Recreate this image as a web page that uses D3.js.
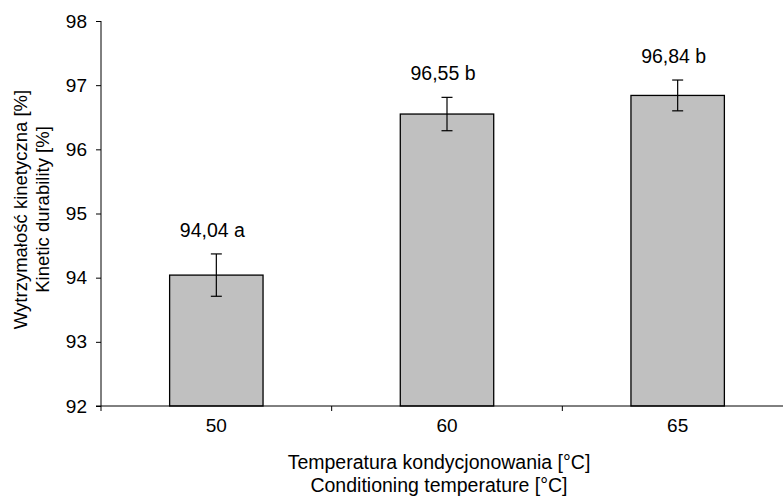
<!DOCTYPE html>
<html>
<head>
<meta charset="utf-8">
<script src="https://cdn.jsdelivr.net/npm/d3@7/dist/d3.min.js"></script>
<style>
  body { margin: 0; background: #fff; }
  text { font-family: "Liberation Sans", Arial, sans-serif; fill: #000; }
</style>
</head>
<body>
<div id="wykres"></div>
<script>
// dane
var temperatures = ["50", "60", "65"];
var durability = [94.04, 96.55, 96.84];
var errors = [0.33, 0.26, 0.24];
var groups = ["a", "b", "b"];
var yTicks = [92, 93, 94, 95, 96, 97, 98];

var margin = {top: 21, right: -10, bottom: 96, left: 101},
    width = 783 - margin.left - margin.right,
    height = 502 - margin.top - margin.bottom;

var svg = d3.select("#wykres")
  .append("svg")
    .attr("width", 783)
    .attr("height", 502)
  .append("g")
    .attr("transform", "translate(" + margin.left + "," + margin.top + ")");

var x = d3.scaleBand()
  .domain(temperatures)
  .range([0, width])
  .paddingInner(0.595)
  .paddingOuter(0.2975);

var y = d3.scaleLinear()
  .domain([92, 98])
  .range([height, 0]);

// bars
svg.selectAll("rect.bar")
  .data(durability)
  .enter().append("rect")
    .attr("class", "bar")
    .attr("x", function(d, i) { return x(temperatures[i]); })
    .attr("y", function(d) { return y(d); })
    .attr("width", x.bandwidth())
    .attr("height", function(d) { return height - y(d); })
    .style("fill", "#c0c0c0")
    .style("stroke", "#000")
    .style("stroke-width", 1.3);

// error bars
var eb = svg.selectAll("g.err")
  .data(durability)
  .enter().append("g")
    .attr("class", "err")
    .attr("transform", function(d, i) { return "translate(" + (x(temperatures[i]) + x.bandwidth() / 2) + ",0)"; });

eb.append("line")
  .attr("x1", 0).attr("x2", 0)
  .attr("y1", function(d, i) { return y(d + errors[i]); })
  .attr("y2", function(d, i) { return y(d - errors[i]); })
  .style("stroke", "#000").style("stroke-width", 1.2);
eb.append("line")
  .attr("x1", -5.5).attr("x2", 5.5)
  .attr("y1", function(d, i) { return y(d + errors[i]); })
  .attr("y2", function(d, i) { return y(d + errors[i]); })
  .style("stroke", "#000").style("stroke-width", 1.2);
eb.append("line")
  .attr("x1", -5.5).attr("x2", 5.5)
  .attr("y1", function(d, i) { return y(d - errors[i]); })
  .attr("y2", function(d, i) { return y(d - errors[i]); })
  .style("stroke", "#000").style("stroke-width", 1.2);

// labels
eb.append("text")
  .attr("x", -4)
  .attr("y", function(d, i) { return y(d + errors[i]) - 17; })
  .attr("text-anchor", "middle")
  .style("font-size", "19.5px")
  .text(function(d, i) { return d.toFixed(2).replace(".", ",") + " " + groups[i]; });

// axes
var yAxis = svg.append("g")
  .call(d3.axisLeft(y).tickValues(yTicks).tickSize(5).tickPadding(9).tickFormat(d3.format("d")));
yAxis.select(".domain").attr("d", "M0," + (height + 5) + "V0").style("stroke", "#000");
yAxis.selectAll(".tick line").style("stroke", "#000");
yAxis.selectAll("text").style("font-size", "19px");

var xAxis = svg.append("g")
  .attr("transform", "translate(0," + height + ")")
  .call(d3.axisBottom(x).tickSize(0).tickPadding(13));
xAxis.select(".domain").attr("d", "M-5,0H" + width).style("stroke", "#000");
xAxis.selectAll("text").style("font-size", "19px");

// ticks between categories
svg.selectAll("line.sep")
  .data(temperatures.slice(1))
  .enter().append("line")
    .attr("class", "sep")
    .attr("x1", function(d) { return x(d) - x.step() * x.paddingInner() / 2; })
    .attr("x2", function(d) { return x(d) - x.step() * x.paddingInner() / 2; })
    .attr("y1", height).attr("y2", height + 5)
    .style("stroke", "#000");

// titles
svg.append("text")
  .attr("x", width / 2 - 8)
  .attr("y", height + 63)
  .attr("text-anchor", "middle")
  .style("font-size", "19.5px")
  .text("Temperatura kondycjonowania [°C]");
svg.append("text")
  .attr("x", width / 2 - 8)
  .attr("y", height + 86)
  .attr("text-anchor", "middle")
  .style("font-size", "19.5px")
  .text("Conditioning temperature [°C]");

svg.append("text")
  .attr("transform", "translate(-74," + (height / 2 - 4) + ") rotate(-90)")
  .attr("text-anchor", "middle")
  .style("font-size", "18.5px")
  .text("Wytrzymałość kinetyczna [%]");
svg.append("text")
  .attr("transform", "translate(-52," + (height / 2 - 4) + ") rotate(-90)")
  .attr("text-anchor", "middle")
  .style("font-size", "18.5px")
  .text("Kinetic durability [%]");
</script>
</body>
</html>
